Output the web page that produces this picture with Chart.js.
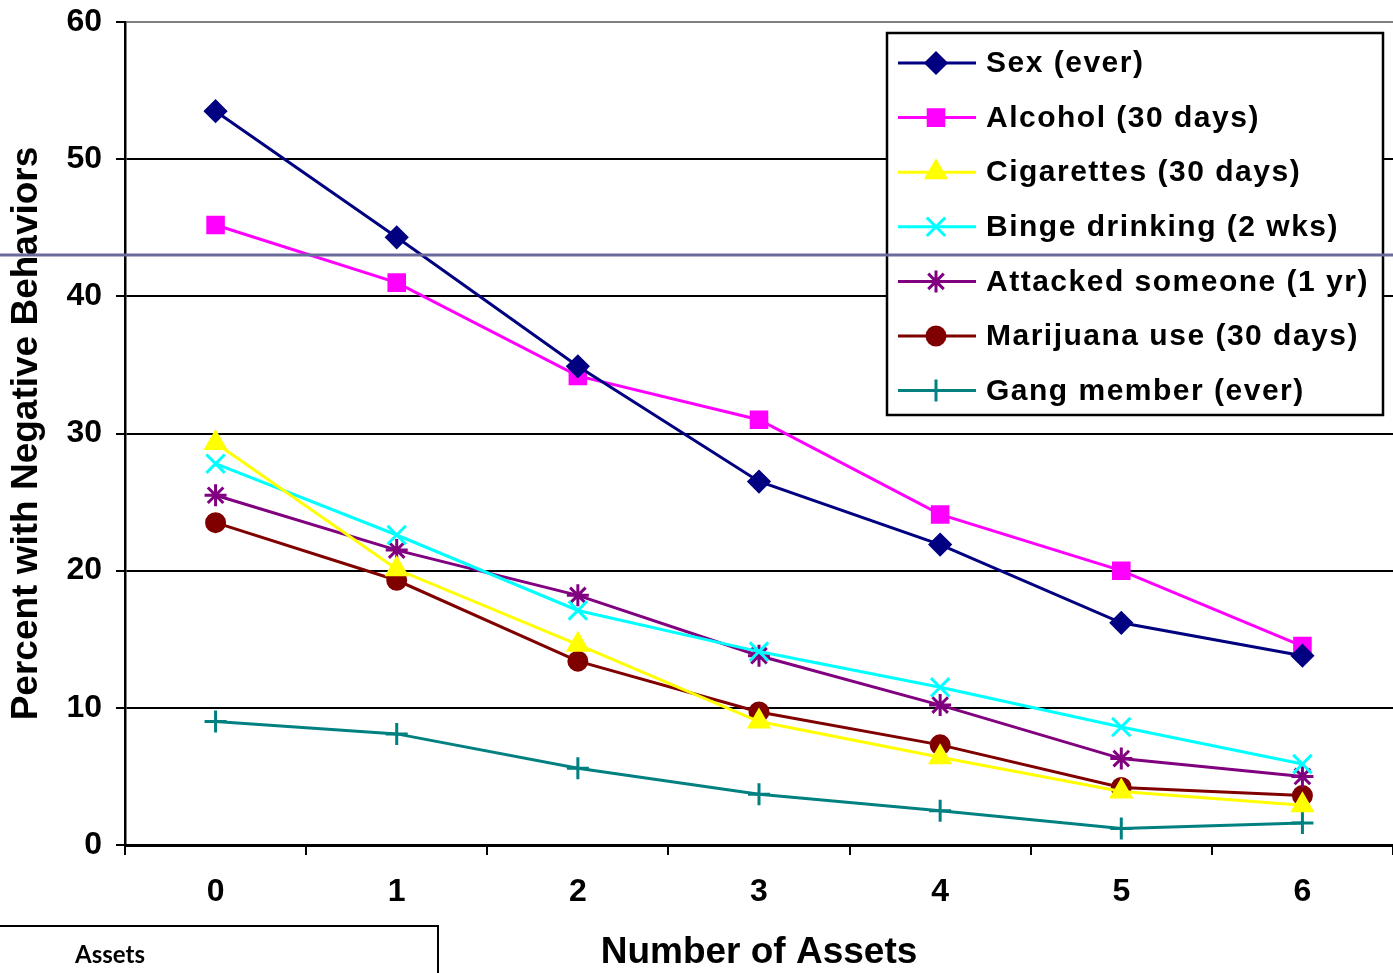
<!DOCTYPE html>
<html>
<head>
<meta charset="utf-8">
<script src="https://cdn.jsdelivr.net/npm/chart.js@4/dist/chart.umd.min.js"></script>
<style>
  body { margin: 0; background: #fff; }
  #wrap { width: 1393px; height: 973px; }
</style>
</head>
<body>
<div id="wrap"><canvas id="myChart" width="1393" height="973"></canvas></div>
<script>
// values
const assets = ["0", "1", "2", "3", "4", "5", "6"];
const sexEver = [53.5, 44.3, 34.9, 26.5, 21.9, 16.2, 13.8];
const alcohol30 = [45.2, 41.0, 34.2, 31.0, 24.1, 20.0, 14.5];
const cigarettes30 = [29.3, 20.1, 14.6, 9.0, 6.4, 3.9, 2.9];
const binge2wk = [27.8, 22.6, 17.1, 14.1, 11.5, 8.6, 5.9];
const attacked1yr = [25.5, 21.5, 18.2, 13.8, 10.2, 6.3, 5.0];
const marijuana30 = [23.5, 19.3, 13.4, 9.7, 7.3, 4.2, 3.6];
const gangEver = [9.0, 8.1, 5.6, 3.7, 2.5, 1.2, 1.6];
const yTicks = [0, 10, 20, 30, 40, 50, 60];

const axisFont = '"Liberation Sans", Arial, sans-serif';

function series(label, data, color, style, radius) {
  return {
    label: label,
    data: data,
    borderColor: color,
    backgroundColor: color,
    borderWidth: 3,
    pointStyle: style,
    pointRadius: radius,
    pointHoverRadius: radius,
    pointBackgroundColor: color,
    pointBorderColor: color,
    pointBorderWidth: 3,
    tension: 0,
    clip: false
  };
}

const extras = {
  id: "extras",
  afterDraw(chart) {
    const ctx = chart.ctx;
    ctx.save();
    // legend box
    const lx = 887, ly = 33, lw = 496, lh = 382;
    ctx.fillStyle = "#fff";
    ctx.fillRect(lx, ly, lw, lh);
    ctx.lineWidth = 2.5;
    ctx.strokeStyle = "#000";
    ctx.strokeRect(lx, ly, lw, lh);
    chart.data.datasets.forEach((ds, i) => {
      const y = ly + 30 + i * 54.6;
      ctx.strokeStyle = ds.borderColor;
      ctx.fillStyle = ds.borderColor;
      ctx.lineWidth = 3;
      ctx.beginPath();
      ctx.moveTo(lx + 11, y);
      ctx.lineTo(lx + 89, y);
      ctx.stroke();
      Chart.helpers.drawPoint(ctx, {
        pointStyle: ds.pointStyle, radius: ds.pointRadius,
        borderWidth: ds.pointBorderWidth, rotation: 0
      }, lx + 49, y);
      ctx.fillStyle = "#000";
      ctx.font = 'bold 30px ' + axisFont;
      ctx.letterSpacing = "1.5px";
      ctx.textBaseline = "middle";
      ctx.textAlign = "left";
      ctx.fillText(ds.label, lx + 99, y + 1);
    });
    ctx.letterSpacing = "0px";
    // stray horizontal rule across the slide
    ctx.strokeStyle = "#6a6a9c";
    ctx.lineWidth = 3;
    ctx.beginPath();
    ctx.moveTo(0, 255);
    ctx.lineTo(chart.width, 255);
    ctx.stroke();
    // "Assets" box bottom left
    ctx.strokeStyle = "#000";
    ctx.lineWidth = 2;
    ctx.strokeRect(-2, 926, 440, 60);
    ctx.fillStyle = "#000";
    ctx.font = 'bold 24px Lato, "Open Sans", sans-serif';
    ctx.textBaseline = "middle";
    ctx.fillText("Assets", 75, 955);
    ctx.restore();
  }
};

const ctx = document.getElementById("myChart").getContext("2d");
new Chart(ctx, {
  type: "line",
  data: {
    labels: assets,
    datasets: [
      series("Sex (ever)", sexEver, "#000080", "rectRot", 10),
      series("Alcohol (30 days)", alcohol30, "#FF00FF", "rect", 11),
      series("Cigarettes (30 days)", cigarettes30, "#FFFF00", "triangle", 11),
      series("Binge drinking (2 wks)", binge2wk, "#00FFFF", "crossRot", 13),
      series("Attacked someone (1 yr)", attacked1yr, "#800080", "star", 11),
      series("Marijuana use (30 days)", marijuana30, "#800000", "circle", 9),
      series("Gang member (ever)", gangEver, "#008080", "cross", 11)
    ]
  },
  options: {
    responsive: false,
    animation: false,
    layout: { autoPadding: false, padding: { top: 22, right: 0, left: 0, bottom: 0 } },
    plugins: {
      legend: { display: false },
      tooltip: { enabled: false }
    },
    scales: {
      x: {
        offset: true,
        afterFit: (s) => { s.height = 128; s.paddingLeft = 0; s.paddingRight = 0; },
        grid: {
          offset: true,
          drawOnChartArea: false,
          drawTicks: true,
          tickLength: 10,
          color: "#000",
          lineWidth: 2
        },
        border: { color: "#000", width: 3 },
        ticks: {
          color: "#000",
          padding: 18,
          maxRotation: 0,
          font: { family: axisFont, size: 32, weight: "bold" }
        },
        title: {
          display: true,
          text: "Number of Assets",
          color: "#000",
          padding: { top: 0, bottom: -2 },
          font: { family: axisFont, size: 37, weight: "bold" }
        }
      },
      y: {
        min: 0,
        max: 60,
        afterFit: (s) => { s.width = 125; s.paddingTop = 0; s.paddingBottom = 0; },
        afterBuildTicks: (s) => { s.ticks = yTicks.map(v => ({ value: v })); },
        grid: {
          color: (c) => (c.tick && c.tick.value === 60 ? "#808080" : "#000"),
          tickColor: "#000",
          lineWidth: 2,
          tickLength: 9
        },
        border: { color: "#000", width: 2.5 },
        ticks: {
          color: "#000",
          padding: 14,
          font: { family: axisFont, size: 32, weight: "bold" }
        },
        title: {
          display: true,
          text: "Percent with Negative Behaviors",
          color: "#000",
          padding: { top: 5, bottom: 0 },
          font: { family: axisFont, size: 37, weight: "bold" }
        }
      }
    }
  },
  plugins: [extras]
});
</script>
</body>
</html>
